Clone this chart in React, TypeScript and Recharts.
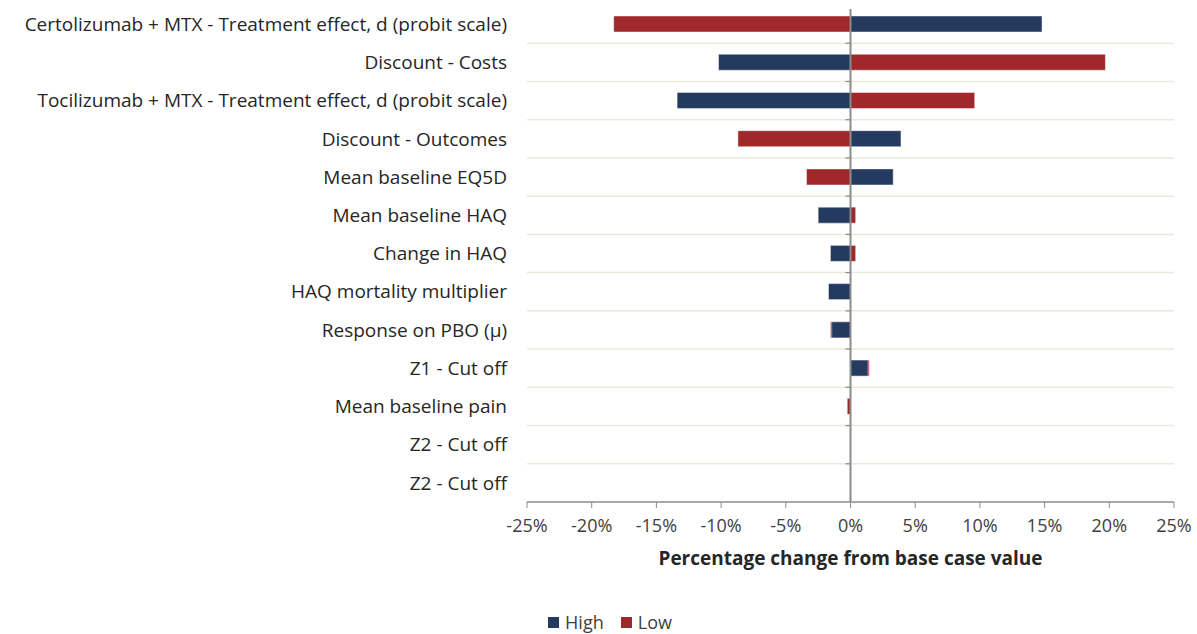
import React from "react";
import {
  BarChart,
  Bar,
  XAxis,
  YAxis,
  CartesianGrid,
  ReferenceLine,
  Legend,
} from "recharts";

const CATEGORIES = [
  "Certolizumab + MTX - Treatment effect, d (probit scale)",
  "Discount - Costs",
  "Tocilizumab + MTX - Treatment effect, d (probit scale)",
  "Discount - Outcomes",
  "Mean baseline EQ5D",
  "Mean baseline HAQ",
  "Change in HAQ",
  "HAQ mortality multiplier",
  "Response on PBO (\u00b5)",
  "Z1 - Cut off",
  "Mean baseline pain",
  "Z2 - Cut off",
  "Z2 - Cut off",
];

// % change from base case
const HIGH = [14.8, -10.2, -13.4, 3.9, 3.3, -2.5, -1.55, -1.7, -1.45, 1.35, 0, 0, 0];
const LOW = [-18.3, 19.7, 9.6, -8.7, -3.4, 0.4, 0.4, 0, -1.55, 1.45, -0.25, 0, 0];

const X_TICKS = [-25, -20, -15, -10, -5, 0, 5, 10, 15, 20, 25];
const LEGEND_ORDER = ["High", "Low"];

const data = CATEGORIES.map((name, i) => ({
  name,
  high: HIGH[i],
  low: LOW[i],
}));

const NAVY = "#243A5E";
const RED = "#A0282B";
const GRID = "#ECE8DA";
const AXIS = "#8C8C8C";

// zero line with small tick marks at the row boundaries
function ZeroLine(props: any) {
  const { x1, y1, y2 } = props;
  const top = Math.min(y1, y2);
  const bottom = Math.max(y1, y2);
  const step = (bottom - top) / CATEGORIES.length;
  const ticks = [];
  for (let i = 1; i < CATEGORIES.length; i++) {
    const y = top + i * step;
    ticks.push(
      <line key={i} x1={x1 - 5} x2={x1} y1={y} y2={y} stroke={AXIS} strokeWidth={1.2} />
    );
  }
  return (
    <g>
      <line x1={x1} x2={x1} y1={top + 4} y2={bottom} stroke={AXIS} strokeWidth={2} />
      {ticks}
    </g>
  );
}

function renderLegend(props: any) {
  const items = [...(props.payload || [])].sort(
    (a: any, b: any) => LEGEND_ORDER.indexOf(a.value) - LEGEND_ORDER.indexOf(b.value)
  );
  return (
    <div
      style={{
        display: "flex",
        justifyContent: "center",
        alignItems: "center",
        gap: 17,
        paddingLeft: 46,
        paddingTop: 4,
        fontSize: 18,
        color: "#404040",
      }}
    >
      {items.map((e: any) => (
        <span key={e.value} style={{ display: "flex", alignItems: "center" }}>
          <span
            style={{
              display: "inline-block",
              width: 11,
              height: 11,
              background: e.color,
              marginRight: 6,
            }}
          />
          {e.value}
        </span>
      ))}
    </div>
  );
}

export default function App() {
  return (
    <div
      style={{
        width: 1197,
        height: 634,
        background: "#fff",
        fontFamily: "'Open Sans', sans-serif",
      }}
    >
      <style>{`html, body { margin: 0; padding: 0; overflow: hidden; }`}</style>
      <BarChart
        width={1197}
        height={634}
        data={data}
        layout="vertical"
        margin={{ top: 5, right: 23, bottom: 0, left: 0 }}
        barSize={16}
        barGap={-16}
      >
        <CartesianGrid
          vertical={false}
          stroke={GRID}
          strokeWidth={1.5}
          horizontalCoordinatesGenerator={({ offset }: any) => {
            const n = CATEGORIES.length;
            const out = [];
            for (let i = 1; i < n; i++) out.push(offset.top + (i * offset.height) / n);
            return out;
          }}
        />
        <XAxis
          type="number"
          domain={[-25, 25]}
          ticks={X_TICKS}
          interval={0}
          tickFormatter={(v: number) => `${v}%`}
          height={104}
          axisLine={{ stroke: AXIS, strokeWidth: 1.5 }}
          tickLine={{ stroke: AXIS }}
          tickSize={6}
          tickMargin={11}
          tick={{ fill: "#404040", fontSize: 18 }}
          label={{
            value: "Percentage change from base case value",
            position: "insideTop",
            offset: 50,
            style: { fontWeight: 700, fontSize: 19, fill: "#262626" },
          }}
        />
        <YAxis
          type="category"
          dataKey="name"
          width={527}
          interval={0}
          axisLine={false}
          tickLine={false}
          tickSize={0}
          tickMargin={20}
          tick={{ fill: "#262626", fontSize: 19 }}
        />
        <ReferenceLine x={0} shape={ZeroLine} />
        <Bar
          dataKey="low"
          name="Low"
          fill={RED}
          stroke="#fff"
          strokeOpacity={0.45}
          isAnimationActive={false}
        />
        <Bar
          dataKey="high"
          name="High"
          fill={NAVY}
          stroke="#fff"
          strokeOpacity={0.45}
          isAnimationActive={false}
        />
        <Legend verticalAlign="bottom" height={28} content={renderLegend} />
      </BarChart>
    </div>
  );
}
